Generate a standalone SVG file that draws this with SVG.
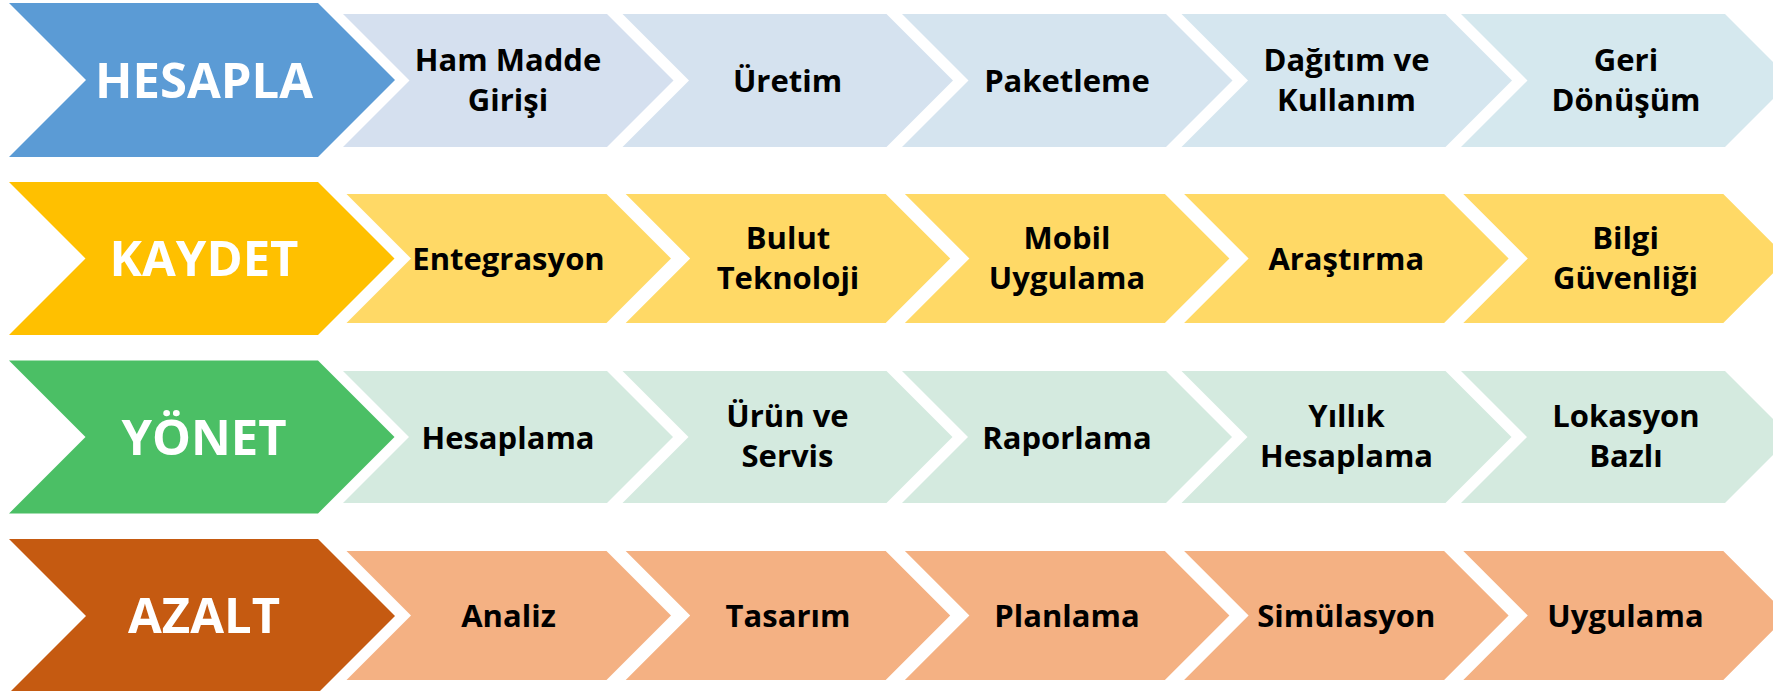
<svg xmlns="http://www.w3.org/2000/svg" width="1773" height="691" viewBox="0 0 1773 691">
<style>
.big{font-family:"Open Sans","Liberation Sans",sans-serif;font-weight:700;font-size:49px;fill:#fff;text-anchor:middle}
.sm{font-family:"Open Sans","Liberation Sans",sans-serif;font-weight:700;font-size:31px;fill:#000;text-anchor:middle}
</style>
<rect width="1773" height="691" fill="#fff"/>
<g id="connectors"/>
<!-- Row 1 -->
<g id="hesapla"><polygon points="9,3 318,3 395,80 318,157 9,157 86,80" fill="#5B9BD5"/><text class="big" x="204" y="98">HESAPLA</text></g>
<g id="r1c1"><polygon points="343,14 607,14 673.5,80.5 607,147 343,147 409.5,80.5" fill="#D5E0EF"/><text class="sm" x="508" y="70.5">Ham Madde</text><text class="sm" x="508" y="110.5">Girişi</text></g>
<g id="r1c2"><polygon points="622.5,14 886.5,14 953,80.5 886.5,147 622.5,147 689,80.5" fill="#D5E2EF"/><text class="sm" x="787.5" y="92">Üretim</text></g>
<g id="r1c3"><polygon points="902,14 1166,14 1232.5,80.5 1166,147 902,147 968.5,80.5" fill="#D5E4EF"/><text class="sm" x="1067" y="92">Paketleme</text></g>
<g id="r1c4"><polygon points="1181.5,14 1445.5,14 1512,80.5 1445.5,147 1181.5,147 1248,80.5" fill="#D5E6EF"/><text class="sm" x="1346.5" y="70.5">Dağıtım ve</text><text class="sm" x="1346.5" y="110.5">Kullanım</text></g>
<g id="r1c5"><polygon points="1461,14 1725,14 1791.5,80.5 1725,147 1461,147 1527.5,80.5" fill="#D5E8EE"/><text class="sm" x="1626" y="70.5">Geri</text><text class="sm" x="1626" y="110.5">Dönüşüm</text></g>
<!-- Row 2 -->
<g id="kaydet"><polygon points="9,182 318,182 394.5,258.5 318,335 9,335 85.5,258.5" fill="#FFC000"/><text class="big" x="204" y="276">KAYDET</text></g>
<g id="r2c1"><polygon points="346.5,194 606.5,194 671,258.5 606.5,323 346.5,323 411,258.5" fill="#FFD966"/><text class="sm" x="508.5" y="270">Entegrasyon</text></g>
<g id="r2c2"><polygon points="625.7,194 885.7,194 950.2,258.5 885.7,323 625.7,323 690.2,258.5" fill="#FFD966"/><text class="sm" x="788" y="248.5">Bulut</text><text class="sm" x="788" y="288.5">Teknoloji</text></g>
<g id="r2c3"><polygon points="904.9,194 1164.9,194 1229.4,258.5 1164.9,323 904.9,323 969.4,258.5" fill="#FFD966"/><text class="sm" x="1067" y="248.5">Mobil</text><text class="sm" x="1067" y="288.5">Uygulama</text></g>
<g id="r2c4"><polygon points="1184.1,194 1444.1,194 1508.6,258.5 1444.1,323 1184.1,323 1248.6,258.5" fill="#FFD966"/><text class="sm" x="1346.3" y="270">Araştırma</text></g>
<g id="r2c5"><polygon points="1463.3,194 1723.3,194 1787.8,258.5 1723.3,323 1463.3,323 1527.8,258.5" fill="#FFD966"/><text class="sm" x="1625.5" y="248.5">Bilgi</text><text class="sm" x="1625.5" y="288.5">Güvenliği</text></g>
<!-- Row 3 -->
<g id="yonet"><polygon points="9,360.5 318,360.5 394.5,437 318,513.5 9,513.5 85.5,437" fill="#4BBF65"/><text class="big" x="204" y="454.5">YÖNET</text></g>
<g id="r3c1"><polygon points="343,371 607,371 673,437 607,503 343,503 409,437" fill="#D4EADF"/><text class="sm" x="508" y="448.5">Hesaplama</text></g>
<g id="r3c2"><polygon points="622.5,371 886.5,371 952.5,437 886.5,503 622.5,503 688.5,437" fill="#D4EADF"/><text class="sm" x="787.5" y="427">Ürün ve</text><text class="sm" x="787.5" y="467">Servis</text></g>
<g id="r3c3"><polygon points="902,371 1166,371 1232,437 1166,503 902,503 968,437" fill="#D4EADF"/><text class="sm" x="1067" y="448.5">Raporlama</text></g>
<g id="r3c4"><polygon points="1181.5,371 1445.5,371 1511.5,437 1445.5,503 1181.5,503 1247.5,437" fill="#D4EADF"/><text class="sm" x="1346.5" y="427">Yıllık</text><text class="sm" x="1346.5" y="467">Hesaplama</text></g>
<g id="r3c5"><polygon points="1461,371 1725,371 1791,437 1725,503 1461,503 1527,437" fill="#D4EADF"/><text class="sm" x="1626" y="427">Lokasyon</text><text class="sm" x="1626" y="467">Bazlı</text></g>
<!-- Row 4 -->
<g id="azalt"><polygon points="9,539 318,539 395,616 318,693 9,693 86,616" fill="#C55A11"/><text class="big" x="204" y="632.5">AZALT</text></g>
<g id="r4c1"><polygon points="346.5,551 606.5,551 671,615.5 606.5,680 346.5,680 411,615.5" fill="#F4B183"/><text class="sm" x="508.5" y="627">Analiz</text></g>
<g id="r4c2"><polygon points="625.7,551 885.7,551 950.2,615.5 885.7,680 625.7,680 690.2,615.5" fill="#F4B183"/><text class="sm" x="788" y="627">Tasarım</text></g>
<g id="r4c3"><polygon points="904.9,551 1164.9,551 1229.4,615.5 1164.9,680 904.9,680 969.4,615.5" fill="#F4B183"/><text class="sm" x="1067" y="627">Planlama</text></g>
<g id="r4c4"><polygon points="1184.1,551 1444.1,551 1508.6,615.5 1444.1,680 1184.1,680 1248.6,615.5" fill="#F4B183"/><text class="sm" x="1346.3" y="627">Simülasyon</text></g>
<g id="r4c5"><polygon points="1463.3,551 1723.3,551 1787.8,615.5 1723.3,680 1463.3,680 1527.8,615.5" fill="#F4B183"/><text class="sm" x="1625.5" y="627">Uygulama</text></g>
</svg>
